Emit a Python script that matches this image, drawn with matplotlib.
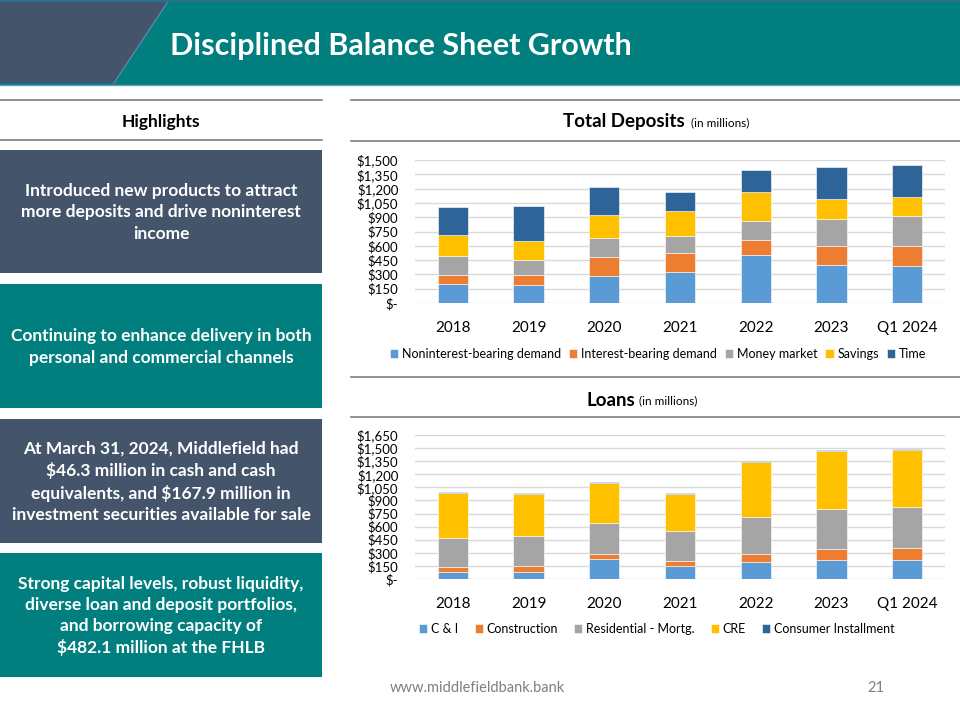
import matplotlib
matplotlib.use("Agg")
import matplotlib.pyplot as plt
from matplotlib.patches import Polygon, Rectangle
from matplotlib.ticker import FuncFormatter, MultipleLocator
import numpy as np

plt.rcParams['font.family'] = ['Lato', 'DejaVu Sans']

# ---------------- data ----------------
years = ["2018", "2019", "2020", "2021", "2022", "2023", "Q1 2024"]

dep_series = ["Noninterest-bearing demand", "Interest-bearing demand", "Money market", "Savings", "Time"]
dep_nib = [199, 185, 286, 328, 499, 394, 387]
dep_ib = [91, 105, 195, 199, 167, 206, 206]
dep_mm = [198, 163, 203, 178, 189, 279, 321]
dep_sav = [224, 199, 244, 261, 307, 213, 199]
dep_time = [300, 367, 293, 196, 237, 331, 335]

loan_series = ["C & I", "Construction", "Residential - Mortg.", "CRE", "Consumer Installment"]
loan_ci = [80, 84, 226, 145, 191, 218, 218]
loan_con = [58, 65, 65, 58, 92, 127, 142]
loan_res = [333, 349, 348, 344, 429, 459, 463]
loan_cre = [509, 471, 456, 425, 632, 666, 655]
loan_cons = [15, 15, 11, 12, 11, 12, 15]

colors = ["#5B9BD5", "#ED7D31", "#A5A5A5", "#FFC000", "#2F6499"]
SLATE = "#44546A"
TEAL = "#017E7E"

W, H = 960, 720
fig = plt.figure(figsize=(9.6, 7.2), dpi=100)

bg = fig.add_axes([0, 0, 1, 1])
bg.set_xlim(0, W)
bg.set_ylim(H, 0)
bg.axis("off")

# header
bg.add_patch(Rectangle((0, 0), W, 85, color=TEAL, lw=0))
bg.add_patch(Polygon([(0, 0), (169, 0), (114, 83), (0, 83)], closed=True, color=SLATE, lw=0))
bg.plot([169, 114], [0, 83], color="#5A86A8", lw=1)
bg.plot([0, W], [1, 1], color="#2C6E8E", lw=1.5)
bg.plot([0, W], [84.5, 84.5], color="#6F9CC0", lw=1)
bg.text(170, 46, "Disciplined Balance Sheet Growth", color="white", fontsize=22,
        fontweight="bold", ha="left", va="center")

# separator lines
line_c = "#7F7F7F"
for y in (100, 140):
    bg.plot([0, 322], [y, y], color=line_c, lw=1.2)
for y in (100, 140.5, 377, 417):
    bg.plot([351, W], [y, y], color=line_c, lw=1.2)

bg.text(161, 122, "Highlights", fontsize=12.5, fontweight="bold", ha="center", va="center", color="black")

# panels
panels = [
    (150, 273, SLATE, "Introduced new products to attract\nmore deposits and drive noninterest\nincome"),
    (284, 408, TEAL, "Continuing to enhance delivery in both\npersonal and commercial channels"),
    (419, 543, SLATE, "At March 31, 2024, Middlefield had\n$46.3 million in cash and cash\nequivalents, and $167.9 million in\ninvestment securities available for sale"),
    (553, 677, TEAL, "Strong capital levels, robust liquidity,\ndiverse loan and deposit portfolios,\nand borrowing capacity of\n$482.1 million at the FHLB"),
]
for y0, y1, c, txt in panels:
    bg.add_patch(Rectangle((0, y0), 322, y1 - y0, color=c, lw=0))
    bg.text(161, (y0 + y1) / 2 + 1, txt, color="white", fontsize=12.5, fontweight="bold",
            ha="center", va="center", linespacing=1.4)

# chart titles
t1 = bg.text(563, 122, "Total Deposits", fontsize=13.5, fontweight="bold", ha="left", va="center")
bg.annotate("  (in millions)", xy=(1, 0.45), xycoords=t1, fontsize=8.5, ha="left", va="center")
t2 = bg.text(587, 400, "Loans", fontsize=13.5, fontweight="bold", ha="left", va="center")
bg.annotate(" (in millions)", xy=(1, 0.45), xycoords=t2, fontsize=8.5, ha="left", va="center")

# footer
bg.text(390, 688, "www.middlefieldbank.bank", fontsize=10.5, color="#7F7F7F", ha="left", va="center")
bg.text(876, 688, "21", fontsize=10.5, color="#7F7F7F", ha="center", va="center")


def money(v, pos):
    if v == 0:
        return "$-"
    return "${:,.0f}".format(v)


def stacked(ax, series, names, ymax):
    x = np.arange(len(years))
    bottom = np.zeros(len(years))
    handles = []
    for vals, name, col in zip(series, names, colors):
        b = ax.bar(x, vals, 0.4, bottom=bottom, color=col, label=name,
                   edgecolor="white", linewidth=0.4, zorder=3)
        handles.append(b)
        bottom += np.array(vals)
    ax.set_xlim(-0.5, len(years) - 0.5)
    ax.set_ylim(0, ymax)
    ax.yaxis.set_major_locator(MultipleLocator(150))
    ax.yaxis.set_major_formatter(FuncFormatter(money))
    ax.set_xticks(x)
    ax.set_xticklabels(years)
    ax.grid(axis="y", color="#D9D9D9", lw=1, zorder=0)
    for s in ax.spines.values():
        s.set_visible(False)
    ax.tick_params(axis="both", length=0)
    ax.tick_params(axis="x", labelsize=11, pad=13)
    ax.tick_params(axis="y", labelsize=9.5, pad=12)
    return handles


ax1 = fig.add_axes([415 / W, 1 - 303 / H, 530 / W, 143 / H])
h1 = stacked(ax1, [dep_nib, dep_ib, dep_mm, dep_sav, dep_time], dep_series, 1500)
ax2 = fig.add_axes([415 / W, 1 - 579 / H, 530 / W, 144 / H])
h2 = stacked(ax2, [loan_ci, loan_con, loan_res, loan_cre, loan_cons], loan_series, 1650)

leg_kw = dict(frameon=False, ncol=5, fontsize=9, handlelength=0.65, handleheight=0.65,
              handletextpad=0.3, borderaxespad=0, loc="center")
fig.legend(h1, dep_series, bbox_to_anchor=(658 / W, 1 - 354 / H), columnspacing=0.65, **leg_kw)
fig.legend(h2, loan_series, bbox_to_anchor=(657 / W, 1 - 629 / H), columnspacing=1.3, **leg_kw)

fig.savefig("out.png", dpi=100)
